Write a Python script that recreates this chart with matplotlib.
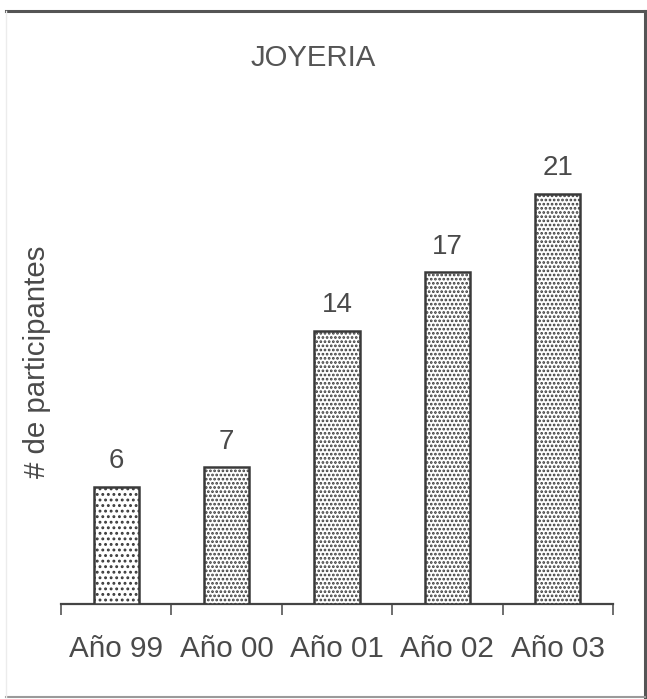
import matplotlib
matplotlib.use("Agg")
import matplotlib.pyplot as plt
from matplotlib.lines import Line2D

categories = ["Año 99", "Año 00", "Año 01", "Año 02", "Año 03"]
values = [6, 7, 14, 17, 21]
hatches = ["...", "....", "....", "....", "...."]

plt.rcParams["font.family"] = ["Liberation Sans", "DejaVu Sans"]
plt.rcParams["hatch.color"] = "#444444"
plt.rcParams["hatch.linewidth"] = 1.3
text_color = "#4a4a4a"
edge_color = "#3a3a3a"

fig = plt.figure(figsize=(6.47, 6.99), dpi=100)
fig.patch.set_facecolor("white")

# outer frame
frame_kw = dict(transform=fig.transFigure, lw=2.2, color="#555555")
fig.add_artist(Line2D([6/647, 646/647], [1 - 10.5/699, 1 - 10.5/699], **frame_kw))
fig.add_artist(Line2D([645/647, 645/647], [1 - 10.5/699, 1 - 697/699], **frame_kw))
fig.add_artist(Line2D([6/647, 645/647], [1 - 697/699, 1 - 697/699],
                      transform=fig.transFigure, lw=1.5, color="#9a9a9a"))
fig.add_artist(Line2D([6/647, 6/647], [1 - 10.5/699, 1 - 697/699],
                      transform=fig.transFigure, lw=1.0, color="#ececec"))

left, right = 61/647, 613/647
bottom, top = 1 - 604/699, 1 - 100/699
ax = fig.add_axes([left, bottom, right - left, top - bottom])
ax.set_facecolor("none")

x = list(range(len(categories)))
bars = ax.bar(x, values, width=0.41, color="white", edgecolor=edge_color,
              linewidth=1.8, zorder=3)
for b, h in zip(bars, hatches):
    b.set_hatch(h)

for xi, v in zip(x, values):
    ax.text(xi, v + 1.3, str(v), ha="center", va="center",
            fontsize=20, color=text_color)

ax.set_xlim(-0.5, len(categories) - 0.5)
ax.set_ylim(0, 25.8)

ax.set_xticks([i - 0.5 for i in range(len(categories) + 1)])
ax.set_xticklabels([])
ax.set_xticks(x, minor=True)
ax.set_xticklabels(categories, minor=True, fontsize=21.3, color=text_color)
ax.tick_params(axis="x", which="major", direction="out", length=8,
               width=1.2, color="#555555")
ax.tick_params(axis="x", which="minor", length=0, pad=22)
ax.set_yticks([])

for s in ("top", "right", "left"):
    ax.spines[s].set_visible(False)
ax.spines["bottom"].set_color("#444444")
ax.spines["bottom"].set_linewidth(1.6)

fig.text(37/647, 1 - 362/699, "# de participantes", rotation=90,
         ha="center", va="center", fontsize=21.2, color=text_color)

fig.text(313/647, 1 - 58/699, "JOYERIA", ha="center", va="center",
         fontsize=21.2, color="#555555")

fig.savefig("out.png", dpi=100, facecolor="white")
